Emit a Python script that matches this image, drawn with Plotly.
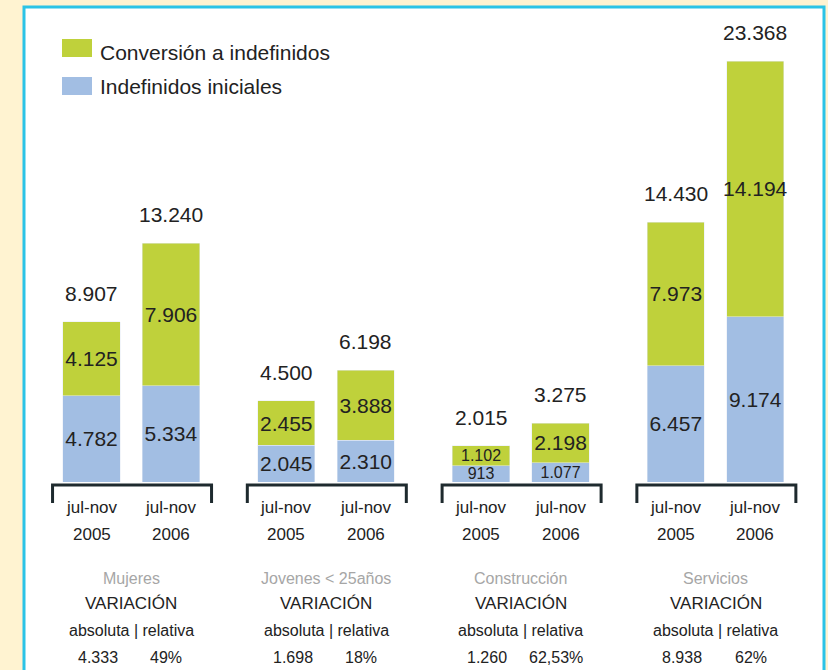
import plotly.graph_objects as go

groups = ["Mujeres", "Jovenes < 25años", "Construcción", "Servicios"]
periods = ["2005", "2006"]
series_names = ["Conversión a indefinidos", "Indefinidos iniciales"]
initial = [4782, 5334, 2045, 2310, 913, 1077, 6457, 9174]
conversion = [4125, 7906, 2455, 3888, 1102, 2198, 7973, 14194]
totals = [8907, 13240, 4500, 6198, 2015, 3275, 14430, 23368]
var_abs = ["4.333", "1.698", "1.260", "8.938"]
var_rel = ["49%", "18%", "62,53%", "62%"]

GREEN = "#BFD13B"
BLUE = "#A2BEE3"
CREAM = "#FFF3D1"
CYAN = "#2BC3E6"
INK = "#222222"
FONT = "Liberation Sans, Arial, sans-serif"

W, H = 828, 670
GROUP_GAP = 2.45
BASE_PX, UNIT_PX = 91.5, 79.5


def fmt(v):
    return f"{v:,}".replace(",", ".")


def py(p):
    return 1 - p / H


def px(p):
    return p / W


def label_sizes(values):
    # thin segments get a smaller label so stacked labels do not collide
    return [21 if v >= 1200 else 16 for v in values]


xs = [g * GROUP_GAP + i for g in range(len(groups)) for i in range(len(periods))]

fig = go.Figure()
fig.add_trace(go.Bar(
    x=xs, y=initial, name=series_names[1], marker_color=BLUE, width=0.72,
    text=[fmt(v) for v in initial], textposition="inside", insidetextanchor="middle",
    constraintext="none", textangle=0,
    textfont=dict(size=label_sizes(initial), color=INK, family=FONT),
    showlegend=False,
))
fig.add_trace(go.Bar(
    x=xs, y=conversion, name=series_names[0], marker_color=GREEN, width=0.72,
    text=[fmt(v) for v in conversion], textposition="inside", insidetextanchor="middle",
    constraintext="none", textangle=0,
    textfont=dict(size=label_sizes(conversion), color=INK, family=FONT),
    showlegend=False,
))

shapes = [
    # white panel with cyan frame
    dict(type="rect", xref="paper", yref="paper", x0=px(24), x1=px(824), y0=py(720), y1=py(7),
         fillcolor="white", line=dict(color=CYAN, width=3), layer="below"),
    # manual legend swatches
    dict(type="rect", xref="paper", yref="paper", x0=px(62), x1=px(92), y0=py(57), y1=py(39),
         fillcolor=GREEN, line_width=0),
    dict(type="rect", xref="paper", yref="paper", x0=px(62), x1=px(92), y0=py(95), y1=py(77),
         fillcolor=BLUE, line_width=0),
]
annotations = [
    dict(x=px(98), y=py(52), xref="paper", yref="paper", text=series_names[0], showarrow=False,
         xanchor="left", yanchor="middle", font=dict(size=21, color=INK, family=FONT)),
    dict(x=px(98), y=py(86), xref="paper", yref="paper", text=series_names[1], showarrow=False,
         xanchor="left", yanchor="middle", font=dict(size=21, color=INK, family=FONT)),
]

for x, t in zip(xs, totals):
    annotations.append(dict(x=x, y=t, xref="x", yref="y", text=fmt(t), showarrow=False,
                            yanchor="bottom", yshift=15, font=dict(size=21, color=INK, family=FONT)))


def below(x, y, text, size=17, color=INK):
    return dict(x=x, y=py(y), xref="x", yref="paper", text=text, showarrow=False,
                xanchor="center", yanchor="middle", font=dict(size=size, color=color, family=FONT))


for g, name in enumerate(groups):
    x0 = g * GROUP_GAP - 0.49
    x1 = g * GROUP_GAP + 1.51
    shapes.append(dict(type="path", xref="x", yref="paper",
                       path=f"M {x0},{py(503)} L {x0},{py(485)} L {x1},{py(485)} L {x1},{py(503)}",
                       line=dict(color="#1E2A2E", width=3)))
    for i, yr in enumerate(periods):
        xc = g * GROUP_GAP + i
        annotations.append(below(xc, 508, "jul-nov"))
        annotations.append(below(xc, 534, yr))
    xc = g * GROUP_GAP + 0.5
    annotations += [
        below(xc, 578, name, 16, "#A6A6A6"),
        below(xc, 603, "VARIACIÓN", 17),
        below(xc, 630, "absoluta | relativa", 16),
        below(xc - 0.42, 657, var_abs[g], 16),
        below(xc + 0.44, 657, var_rel[g], 16),
    ]

fig.update_layout(
    width=W, height=H, barmode="stack",
    margin=dict(l=0, r=0, t=0, b=0),
    paper_bgcolor=CREAM, plot_bgcolor="rgba(0,0,0,0)",
    xaxis=dict(range=[-BASE_PX / UNIT_PX, (W - BASE_PX) / UNIT_PX], visible=False, fixedrange=True),
    yaxis=dict(domain=[py(482), py(40)], range=[0, 23368 * 442 / 421], visible=False, fixedrange=True),
    shapes=shapes, annotations=annotations,
    font=dict(family=FONT, color=INK),
)

# drop the default page margin so the figure fills the window exactly
fig.write_html("out.html", config={"displayModeBar": False},
               post_script=f"document.body.style.margin='0';document.body.style.background='{CREAM}';")
